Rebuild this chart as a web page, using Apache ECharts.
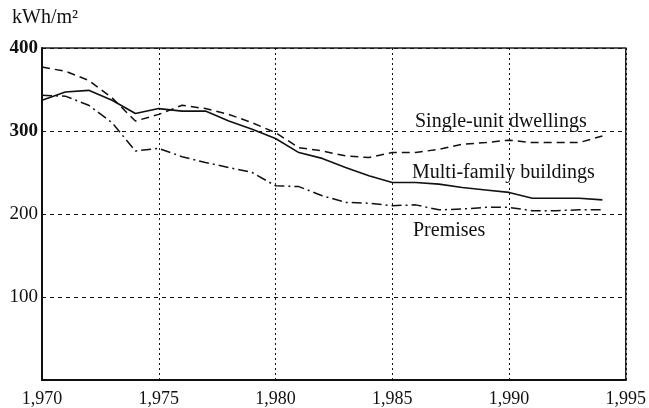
<!DOCTYPE html>
<html lang="en" style="height: 100%">

<head>
  <meta charset="utf-8" />
</head>

<body style="height: 100%; margin: 0; background: #fff">
  <div id="container" style="width: 649px; height: 408px"></div>

  <script type="text/javascript" src="https://fastly.jsdelivr.net/npm/echarts@6/dist/echarts.min.js"></script>

  <script type="text/javascript">
    // values, one per year
    var years = [1970, 1971, 1972, 1973, 1974, 1975, 1976, 1977, 1978, 1979, 1980, 1981,
      1982, 1983, 1984, 1985, 1986, 1987, 1988, 1989, 1990, 1991, 1992, 1993, 1994];
    var singleUnit = [377, 372, 361, 340, 312, 320, 331, 327, 320, 310, 298, 280,
      276, 270, 268, 274, 274, 278, 284, 286, 289, 286, 286, 286, 294];
    var multiFamily = [337, 347, 349, 337, 321, 327, 324, 324, 312, 302, 291, 274,
      267, 256, 246, 238, 238, 236, 232, 229, 226, 219, 219, 219, 217];
    var premises = [343, 342, 331, 310, 276, 279, 269, 262, 256, 250, 234, 233,
      222, 214, 213, 210, 211, 205, 206, 208, 208, 204, 204, 205, 205];
    var seriesNames = ["Single-unit dwellings", "Multi-family buildings", "Premises"];

    function pairs(vals) {
      return years.map(function (y, i) { return [y, vals[i]]; });
    }

    var font = "Liberation Serif";
    var dom = document.getElementById("container");
    var myChart = echarts.init(dom, null, { renderer: "canvas" });

    var option = {
      animation: false,
      backgroundColor: "#fff",
      grid: {
        left: 42, right: 22, top: 48, bottom: 28,
        show: true, borderColor: "#222", borderWidth: 1.5
      },
      xAxis: {
        type: "value", min: 1970, max: 1995, interval: 5,
        axisLine: { show: true, lineStyle: { color: "#111", width: 2 } },
        axisTick: { show: false },
        axisLabel: { color: "#111", fontFamily: font, fontSize: 18, margin: 10 },
        splitLine: { show: true, lineStyle: { color: "#111", width: 1, type: [2, 3] } }
      },
      yAxis: {
        type: "value", min: 0, max: 400, interval: 100,
        axisLine: { show: true, lineStyle: { color: "#111", width: 2 } },
        axisTick: { show: false },
        axisLabel: {
          color: "#111", fontFamily: font, fontSize: 19, margin: 4,
          formatter: function (v) {
            if (v === 0) return "";
            return v >= 300 ? "{b|" + v + "}" : "" + v;
          },
          rich: { b: { fontFamily: font, fontSize: 19, fontWeight: "bold", color: "#111" } }
        },
        splitLine: { show: true, lineStyle: { color: "#111", width: 1, type: [4, 4] } }
      },
      graphic: [
        { type: "text", left: 12, top: 8, style: { text: "kWh/m²", font: "20px Liberation Serif", fill: "#111" } },
        { type: "text", left: 415, top: 112, style: { text: seriesNames[0], font: "20px Liberation Serif", fill: "#111" } },
        { type: "text", left: 412, top: 163, style: { text: seriesNames[1], font: "20px Liberation Serif", fill: "#111" } },
        { type: "text", left: 413, top: 221, style: { text: seriesNames[2], font: "20px Liberation Serif", fill: "#111" } }
      ],
      series: [
        {
          name: seriesNames[0], type: "line", data: pairs(singleUnit), symbol: "none",
          lineStyle: { color: "#111", width: 1.5, type: [8, 5] }
        },
        {
          name: seriesNames[1], type: "line", data: pairs(multiFamily), symbol: "none",
          lineStyle: { color: "#111", width: 1.6, type: "solid" }
        },
        {
          name: seriesNames[2], type: "line", data: pairs(premises), symbol: "none",
          lineStyle: { color: "#111", width: 1.5, type: [10, 4, 2, 4] }
        }
      ]
    };

    myChart.setOption(option);
  </script>
</body>

</html>
